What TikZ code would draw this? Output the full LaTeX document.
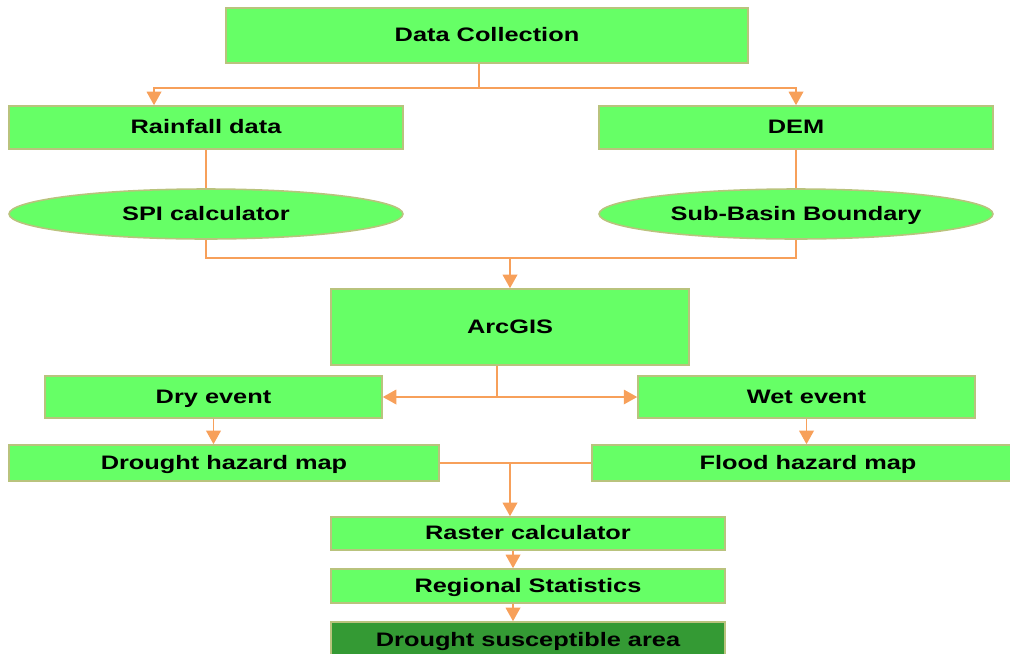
\documentclass[tikz,border=0pt]{standalone}
\usepackage{fontspec}
\setmainfont{Liberation Sans}[FakeStretch=1.3]
\usetikzlibrary{shapes.geometric, arrows.meta, positioning}

\definecolor{boxgreen}  {RGB}{102, 255, 102}
\definecolor{boxedge}   {RGB}{185, 195, 125}
\definecolor{darkgreen} {RGB}{52,  154, 52}
\definecolor{linkorange}{RGB}{247, 160, 90}

\tikzset{
  procbox/.style={
    rectangle, draw=boxedge, line width=0.9pt,
    fill=boxgreen, inner sep=0pt,
    text height=0.72em, text depth=0pt,
    font=\bfseries\fontsize{11.1}{13}\selectfont
  },
  toolell/.style={
    ellipse, draw=boxedge, line width=0.9pt,
    fill=boxgreen, inner sep=0pt,
    text height=0.72em, text depth=0pt,
    minimum width=7.88cm, minimum height=1.0cm,
    font=\bfseries\fontsize{11.1}{13}\selectfont
  },
  flowline/.style={
    draw=linkorange, line width=1.1pt
  },
  flowarrow/.style={
    flowline, -{Triangle[length=0.27cm, width=0.29cm]}
  },
}

\begin{document}
\begin{tikzpicture}[x=0.02cm, y=-0.02cm]
  \useasboundingbox (0,0) rectangle (1010,653);
  \clip (0,0) rectangle (1010,653);

  % inputs
  \node[procbox, minimum width=10.44cm, minimum height=1.10cm] (dc) at (487,35.5) {Data Collection};
  \node[procbox, minimum width=7.88cm, minimum height=0.86cm] (rain) at (206,127.5) {Rainfall data};
  \node[procbox, minimum width=7.88cm, minimum height=0.86cm] (dem) at (796,127.5) {DEM};
  \node[toolell] (spi) at (206,214) {SPI calculator};
  \node[toolell] (sbb) at (796,214) {Sub-Basin Boundary};

  % processing
  \node[procbox, minimum width=7.16cm, minimum height=1.52cm] (arc) at (510,327) {ArcGIS};
  \node[procbox, minimum width=6.74cm, minimum height=0.84cm] (dry) at (213.5,397) {Dry event};
  \node[procbox, minimum width=6.74cm, minimum height=0.84cm] (wet) at (806.5,397) {Wet event};
  \node[procbox, minimum width=8.6cm, minimum height=0.72cm] (dhm) at (224,463) {Drought hazard map};
  \node[procbox, minimum width=8.64cm, minimum height=0.72cm] (fhm) at (808,463) {Flood hazard map};

  % outputs
  \node[procbox, minimum width=7.88cm, minimum height=0.66cm] (ras) at (528,533.5) {Raster calculator};
  \node[procbox, minimum width=7.88cm, minimum height=0.68cm] (reg) at (528,586) {Regional Statistics};
  \node[procbox, fill=darkgreen, minimum width=7.88cm, minimum height=0.72cm] (dsa) at (528,640) {Drought susceptible area};

  % links
  \coordinate (j1) at ([xshift=-0.16cm, yshift=-0.48cm]dc.south);
  \draw[flowline] ([xshift=-0.16cm]dc.south) -- (j1);
  \draw[flowarrow] (j1) -| ([xshift=-1.04cm]rain.north);
  \draw[flowarrow] (j1) -| (dem.north);
  \draw[flowline] (rain.south) -- (spi.north);
  \draw[flowline] (dem.south) -- (sbb.north);

  \coordinate (j2) at ([yshift=-0.36cm]spi.south);
  \draw[flowline] (spi.south) -- (j2) -| (sbb.south);
  \draw[flowarrow] (j2 -| arc.north) -- (arc.north);

  \coordinate (j3) at ([xshift=-0.26cm]arc.south |- dry.east);
  \draw[flowline] ([xshift=-0.26cm]arc.south) -- (j3);
  \draw[flowarrow] (j3) -- (dry.east);
  \draw[flowarrow] (j3) -- (wet.west);

  \draw[flowarrow] (dry.south) -- (dry.south |- dhm.north);
  \draw[flowarrow] (wet.south) -- (wet.south |- fhm.north);

  \draw[flowline] (dhm.east) -- (fhm.west);
  \draw[flowarrow] (arc.north |- dhm.east) -- (arc.north |- ras.north);
  \draw[flowarrow] ([xshift=-0.3cm]ras.south) -- ([xshift=-0.3cm]reg.north);
  \draw[flowarrow] ([xshift=-0.3cm]reg.south) -- ([xshift=-0.3cm]dsa.north);
\end{tikzpicture}
\end{document}
